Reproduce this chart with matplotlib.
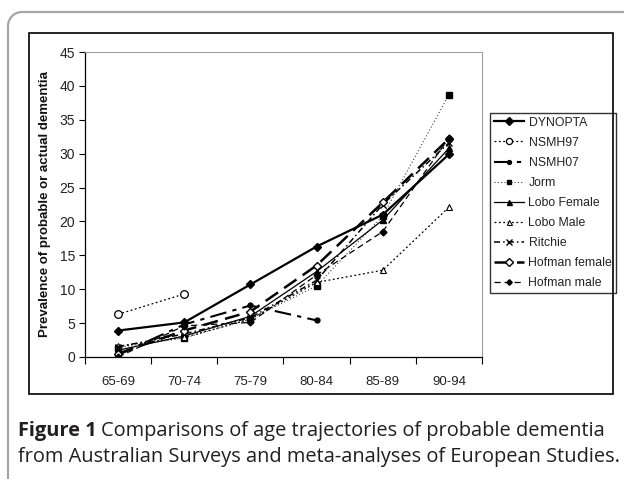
import numpy as np
import matplotlib.pyplot as plt
from matplotlib.lines import Line2D

# Grupos de edad y prevalencias (%)
ages = ['65-69', '70-74', '75-79', '80-84', '85-89', '90-94']

dynopta = [3.9, 5.1, 10.7, 16.3, 21.0, 29.9]
nsmh97 = [6.3, 9.3]
nsmh07 = [0.3, 4.8, 7.6, 5.4]
jorm = [1.4, 2.8, 5.6, 10.5, 20.8, 38.7]
lobo_female = [1.0, 3.1, 6.0, 12.6, 20.2, 30.8]
lobo_male = [1.6, 2.9, 5.6, 11.0, 12.8, 22.1]
ritchie = [1.5, 3.4, 5.8, 11.3, 22.5, 31.6]
hofman_female = [0.5, 3.9, 6.7, 13.5, 22.8, 32.2]
hofman_male = [0.0, 4.6, 5.1, 12.1, 18.5, 32.3]

W, H = 624, 479
fig = plt.figure(figsize=(W / 100, H / 100), dpi=100)
plt.rcParams['font.family'] = ['Liberation Sans', 'DejaVu Sans']

def fx(px):
    return px / W

def fy(py):
    return 1 - py / H

# Marco gris exterior con esquina redondeada
r = 14
t = np.linspace(np.pi / 2, np.pi, 20)
cx, cy = 8 + r, 12 + r
arc_x = [fx(cx + r * np.cos(a)) for a in t]
arc_y = [fy(cy - r * np.sin(a)) for a in t]
xs = [fx(W + 5)] + arc_x + [fx(8)]
ys = [fy(12)] + arc_y + [fy(H + 5)]
fig.add_artist(Line2D(xs, ys, color='#a6a6a6', lw=1.6, transform=fig.transFigure))

# Recuadro negro del grafico
fig.add_artist(plt.Rectangle((fx(29), fy(394)), fx(613) - fx(29), fy(33) - fy(394),
                             fill=False, ec='black', lw=1.2, transform=fig.transFigure))

ax = fig.add_axes([fx(85), fy(357), fx(482) - fx(85), fy(52) - fy(357)])
x = np.arange(len(ages))

ax.plot(x, dynopta, color='black', lw=1.6, marker='D', ms=4.5, mfc='black', label='DYNOPTA')
ax.plot(x[:len(nsmh97)], nsmh97, color='black', lw=0.9, ls=(0, (1.5, 2)), marker='o', ms=5.5,
        mfc='white', mew=0.9, label='NSMH97')
ax.plot(x[:len(nsmh07)], nsmh07, color='black', lw=1.5, ls=(0, (8, 3, 2, 3)), marker='o', ms=3.5,
        mfc='black', label='NSMH07')
ax.plot(x, jorm, color='#404040', lw=0.8, ls=(0, (1, 2)), marker='s', ms=4, mfc='black',
        mec='black', label='Jorm')
ax.plot(x, lobo_female, color='black', lw=0.9, marker='^', ms=4.5, mfc='black', label='Lobo Female')
ax.plot(x, lobo_male, color='black', lw=0.9, ls=(0, (1.5, 2)), marker='^', ms=4.5, mfc='white',
        mew=0.8, label='Lobo Male')
ax.plot(x, ritchie, color='black', lw=1.1, ls=(0, (4, 2, 1, 2)), marker='x', ms=5, mew=1,
        label='Ritchie')
ax.plot(x, hofman_female, color='black', lw=1.8, ls=(0, (6, 3)), marker='D', ms=4.5, mfc='white',
        mew=1, label='Hofman female')
ax.plot(x, hofman_male, color='black', lw=0.9, ls=(0, (5, 3)), marker='D', ms=3.5, mfc='black',
        label='Hofman male')

ax.set_xlim(-0.5, len(ages) - 0.5)
ax.set_ylim(0, 45)
ax.set_yticks(np.arange(0, 46, 5))
ax.set_xticks(x)
ax.set_xticklabels(ages)
ax.set_xticks(np.arange(-0.5, len(ages), 1), minor=True)
ax.tick_params(axis='x', which='major', length=0, pad=14, labelsize=9.5)
ax.tick_params(axis='x', which='minor', length=5, width=0.8, direction='out')
ax.tick_params(axis='y', length=4, width=0.8, labelsize=10, pad=3)
ax.tick_params(axis='both', which='both', colors='black', labelcolor='#222222')

ax.spines['top'].set_color('#a0a0a0')
ax.spines['right'].set_color('#a0a0a0')
ax.spines['left'].set_linewidth(0.9)
ax.spines['bottom'].set_linewidth(0.9)

fig.text(fx(45), fy(204), 'Prevalence of probable or actual dementia', rotation=90,
         ha='center', va='center', fontsize=9.5, fontweight='bold', color='#111111')

leg = ax.legend(loc='upper left', bbox_to_anchor=(fx(490), fy(113)),
                bbox_transform=fig.transFigure, fontsize=8.8, frameon=True,
                fancybox=False, edgecolor='black', handlelength=2.5, handletextpad=0.35,
                labelspacing=0.66, borderpad=0.3, borderaxespad=0, markerscale=0.8)
leg.get_frame().set_linewidth(1.0)
for txt in leg.get_texts():
    txt.set_color('#222222')

# Pie de figura
cap_font = ['Open Sans', 'DejaVu Sans']
cap_size = 14.4
t1 = fig.text(fx(18), fy(431), 'Figure 1', fontsize=cap_size, fontweight='bold', family=cap_font,
              va='center', ha='left', color='#231f20')
fig.canvas.draw()
bb = t1.get_window_extent()
fig.text((bb.x1 + 4) / W, fy(431), 'Comparisons of age trajectories of probable dementia',
         fontsize=cap_size, family=cap_font, va='center', ha='left', color='#231f20')
fig.text(fx(18), fy(457), 'from Australian Surveys and meta-analyses of European Studies.',
         fontsize=cap_size, family=cap_font, va='center', ha='left', color='#231f20')

fig.savefig('out.png', dpi=100)
